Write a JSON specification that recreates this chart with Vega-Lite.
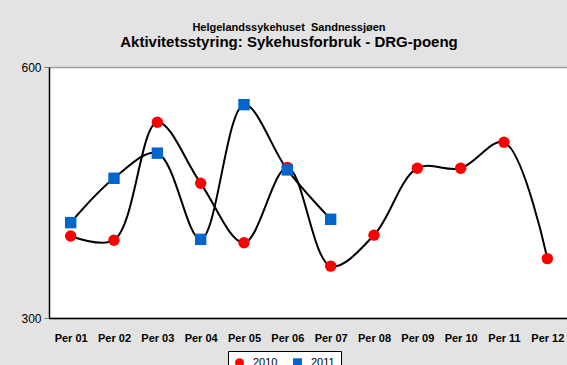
{
  "$schema": "https://vega.github.io/schema/vega-lite/v6.json",
  "width": 520,
  "height": 251,
  "autosize": "none",
  "padding": {"left": 49, "top": 67, "right": 0, "bottom": 47},
  "background": "#e3e3e3",
  "title": {
    "text": "Helgelandssykehuset\u00a0 Sandnessjøen",
    "subtitle": "Aktivitetsstyring: Sykehusforbruk - DRG-poeng",
    "font": "Liberation Sans",
    "fontSize": 11,
    "fontWeight": "bold",
    "color": "black",
    "subtitleFont": "Liberation Sans",
    "subtitleFontSize": 15,
    "subtitleFontWeight": "bold",
    "subtitleColor": "black",
    "subtitlePadding": 2,
    "anchor": "middle",
    "dx": -20,
    "offset": 11
  },
  "config": {
    "view": {"fill": "white", "stroke": null},
    "font": "Liberation Sans"
  },
  "data": {
    "values": [
      {"per": "Per 01", "year": "2010", "v": 398},
      {"per": "Per 02", "year": "2010", "v": 393},
      {"per": "Per 03", "year": "2010", "v": 534},
      {"per": "Per 04", "year": "2010", "v": 461},
      {"per": "Per 05", "year": "2010", "v": 390},
      {"per": "Per 06", "year": "2010", "v": 480},
      {"per": "Per 07", "year": "2010", "v": 362},
      {"per": "Per 08", "year": "2010", "v": 399},
      {"per": "Per 09", "year": "2010", "v": 479},
      {"per": "Per 10", "year": "2010", "v": 479},
      {"per": "Per 11", "year": "2010", "v": 510},
      {"per": "Per 12", "year": "2010", "v": 371},
      {"per": "Per 01", "year": "2011", "v": 414},
      {"per": "Per 02", "year": "2011", "v": 467},
      {"per": "Per 03", "year": "2011", "v": 497},
      {"per": "Per 04", "year": "2011", "v": 394},
      {"per": "Per 05", "year": "2011", "v": 555},
      {"per": "Per 06", "year": "2011", "v": 477},
      {"per": "Per 07", "year": "2011", "v": 418}
    ]
  },
  "encoding": {
    "x": {
      "field": "per",
      "type": "ordinal",
      "scale": {"type": "point", "padding": 0.5},
      "axis": {
        "title": null,
        "ticks": false,
        "labelAngle": 0,
        "labelFontWeight": "bold",
        "labelFontSize": 11,
        "labelColor": "black",
        "labelPadding": 14,
        "domainColor": "black",
        "domainWidth": 1.5,
        "grid": false
      }
    },
    "y": {
      "field": "v",
      "type": "quantitative",
      "scale": {"domain": [300, 600], "nice": false, "zero": false},
      "axis": {
        "title": null,
        "values": [300, 600],
        "labelFontSize": 12,
        "labelColor": "black",
        "tickColor": "#808080",
        "tickSize": 5,
        "labelPadding": 3,
        "domainColor": "black",
        "domainWidth": 1.5,
        "grid": true,
        "gridColor": "#a0a0a0",
        "gridWidth": 1.5
      }
    }
  },
  "layer": [
    {
      "mark": {"type": "line", "interpolate": "catmull-rom", "color": "black", "strokeWidth": 2},
      "encoding": {"detail": {"field": "year"}}
    },
    {
      "mark": {"type": "point", "filled": true, "opacity": 1, "size": 130},
      "encoding": {
        "color": {
          "field": "year",
          "type": "nominal",
          "scale": {"domain": ["2010", "2011"], "range": ["#ff0000", "#0066cc"]},
          "legend": {
            "title": null,
            "orient": "none",
            "legendX": 179,
            "legendY": 284,
            "direction": "horizontal",
            "fillColor": "white",
            "strokeColor": "black",
            "padding": 6,
            "labelFontSize": 11,
            "labelColor": "black",
            "labelOffset": 8,
            "symbolSize": 80,
            "columnPadding": 14
          }
        },
        "shape": {
          "field": "year",
          "type": "nominal",
          "scale": {"domain": ["2010", "2011"], "range": ["circle", "square"]}
        }
      }
    }
  ]
}
